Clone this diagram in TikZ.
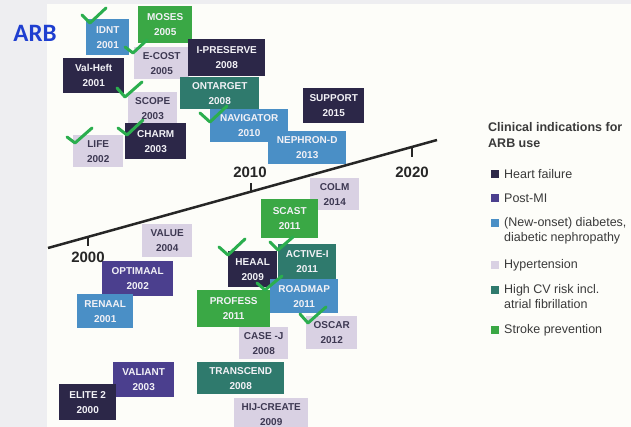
\documentclass[tikz,border=0pt]{standalone}
\usepackage{fontspec}
\setmainfont{Liberation Sans}
\newfontfamily\arbfont{Carlito}
\definecolor{hf}{HTML}{2C2748}
\definecolor{pmi}{HTML}{4B3F8E}
\definecolor{dia}{HTML}{4A8FC6}
\definecolor{hyp}{HTML}{D9D1E3}
\definecolor{cv}{HTML}{2F7A6D}
\definecolor{stroke}{HTML}{3AA845}
\definecolor{chk}{HTML}{2BAE4E}
\definecolor{bgout}{HTML}{EEEEF1}
\definecolor{panel}{HTML}{FDFDF9}
\definecolor{darktxt}{HTML}{3D3852}
\definecolor{lighttxt}{HTML}{F2F1F6}
\definecolor{axiscol}{HTML}{262626}
\definecolor{legtxt}{HTML}{3A3A3A}
\definecolor{arbblue}{HTML}{1F3FD0}
\tikzset{
  tbox/.style={draw=none, inner sep=0pt, anchor=north west, align=center,
    font=\fontsize{10}{15}\selectfont\bfseries},
  dk/.style={tbox, text=lighttxt},
  lt/.style={tbox, fill=hyp, text=darktxt},
  chkmark/.style={draw=chk, line width=3pt, line cap=round, line join=round},
  axisline/.style={draw=axiscol, line width=2.5pt},
  ticks/.style={draw=axiscol, line width=1.6pt},
  yearlab/.style={font=\fontsize{15}{15}\selectfont\bfseries, text=axiscol},
  lsq/.style={draw=none, minimum size=8pt, inner sep=0pt},
  ltext/.style={anchor=west, align=left, text=legtxt, inner sep=0pt,
    font=\fontsize{12.5}{15}\selectfont}
}
\begin{document}
\begin{tikzpicture}[x=1pt,y=-1pt]
\useasboundingbox (0,0) rectangle (631,427);
\fill[bgout] (0,0) rectangle (631,427);
\fill[panel] (47,4) rectangle (631,427);

\node[text=arbblue, font=\arbfont\fontsize{25}{25}\selectfont\bfseries] (arb) at (35,33) {ARB};

% upper boxes
\node[dk, fill=stroke, minimum width=54pt, minimum height=37pt] (moses) at (138,6) {MOSES\\2005};
\node[dk, fill=dia, minimum width=43pt, minimum height=36pt] (idnt) at (86,19) {IDNT\\2001};
\node[lt, minimum width=55pt, minimum height=32pt] (ecost) at (134,47) {E-COST\\2005};
\node[dk, fill=hf, minimum width=61pt, minimum height=35pt] (valheft) at (63,58) {Val-Heft\\2001};
\node[dk, fill=hf, minimum width=77pt, minimum height=37pt] (ipres) at (188,39) {I-PRESERVE\\2008};
\node[dk, fill=cv, minimum width=79pt, minimum height=32pt] (ontarget) at (180,77) {ONTARGET\\2008};
\node[lt, minimum width=49pt, minimum height=32pt] (scope) at (128,92) {SCOPE\\2003};
\node[dk, fill=hf, minimum width=61pt, minimum height=36pt] (charm) at (125,123) {CHARM\\2003};
\node[lt, minimum width=50pt, minimum height=32pt] (life) at (73,135) {LIFE\\2002};
\node[dk, fill=dia, minimum width=78pt, minimum height=33pt] (navigator) at (210,109) {NAVIGATOR\\2010};
\node[dk, fill=hf, minimum width=61pt, minimum height=35pt] (support) at (303,88) {SUPPORT\\2015};
\node[dk, fill=dia, minimum width=78pt, minimum height=33pt] (nephron) at (268,131) {NEPHRON-D\\2013};

% lower boxes
\node[lt, minimum width=50pt, minimum height=33pt] (value) at (142,224) {VALUE\\2004};
\node[dk, fill=pmi, minimum width=71pt, minimum height=35pt] (optimaal) at (102,261) {OPTIMAAL\\2002};
\node[dk, fill=dia, minimum width=56pt, minimum height=34pt] (renaal) at (77,294) {RENAAL\\2001};
\node[dk, fill=pmi, minimum width=61pt, minimum height=35pt] (valiant) at (113,362) {VALIANT\\2003};
\node[dk, fill=hf, minimum width=57pt, minimum height=36pt] (elite) at (59,384) {ELITE 2\\2000};
\node[lt, minimum width=49pt, minimum height=32pt] (colm) at (310,178) {COLM\\2014};
\node[dk, fill=stroke, minimum width=57pt, minimum height=39pt] (scast) at (261,199) {SCAST\\2011};
\node[dk, fill=hf, minimum width=49pt, minimum height=36pt] (heaal) at (228,251) {HEAAL\\2009};
\node[dk, fill=cv, minimum width=58pt, minimum height=35pt] (active) at (278,244) {ACTIVE-I\\2011};
\node[dk, fill=stroke, minimum width=73pt, minimum height=37pt] (profess) at (197,290) {PROFESS\\2011};
\node[dk, fill=dia, minimum width=68pt, minimum height=34pt] (roadmap) at (270,279) {ROADMAP\\2011};
\node[lt, minimum width=51pt, minimum height=33pt] (oscar) at (306,316) {OSCAR\\2012};
\node[lt, minimum width=49pt, minimum height=32pt] (casej) at (239,327) {CASE -J\\2008};
\node[dk, fill=cv, minimum width=87pt, minimum height=32pt] (transcend) at (197,362) {TRANSCEND\\2008};
\node[lt, minimum width=74pt, minimum height=33pt] (hij) at (234,398) {HIJ-CREATE\\2009};

% timeline
\coordinate (ax0) at (48,248);
\coordinate (ax1) at (437,140);
\draw[axisline] (ax0) -- (ax1);
\coordinate (t00) at (88,236.9);
\coordinate (t00e) at (88,246);
\coordinate (t10) at (251,191.6);
\coordinate (t10e) at (251,183);
\coordinate (t20) at (412,146.9);
\coordinate (t20e) at (412,157);
\draw[ticks] (t00) -- (t00e);
\draw[ticks] (t10) -- (t10e);
\draw[ticks] (t20) -- (t20e);
\node[yearlab] (y2000) at (88,257) {2000};
\node[yearlab] (y2010) at (250,172) {2010};
\node[yearlab] (y2020) at (412,172) {2020};

% check marks
\draw[chkmark] (82,15) -- (90,23) -- (106,8);
\draw[chkmark] (125,47) -- (133,53) -- (147,40);
\draw[chkmark] (117,88) -- (125,97) -- (142,82);
\draw[chkmark] (118,128) -- (127,135) -- (143,120);
\draw[chkmark] (67,137) -- (75,143) -- (92,128);
\draw[chkmark] (200,113) -- (210,122) -- (227,106);
\draw[chkmark] (219,247) -- (228,255) -- (245,239);
\draw[chkmark] (270,242) -- (278,250) -- (293,237);
\draw[chkmark] (257,283) -- (265,290) -- (282,276);
\draw[chkmark] (300,314) -- (308,323) -- (326,307);

% legend
\node[ltext, font=\fontsize{12.5}{16}\selectfont\bfseries] (ltitle) at (488,135) {Clinical indications for\\ARB use};
\node[lsq, fill=hf] (sq1) at (494.5,174) {};
\node[ltext] (lt1) at (504,174) {Heart failure};
\node[lsq, fill=pmi] (sq2) at (494.5,198) {};
\node[ltext] (lt2) at (504,198) {Post-MI};
\node[lsq, fill=dia] (sq3) at (494.5,223) {};
\node[ltext] (lt3) at (504,230.5) {(New-onset) diabetes,\\diabetic nephropathy};
\node[lsq, fill=hyp] (sq4) at (494.5,265) {};
\node[ltext] (lt4) at (504,265) {Hypertension};
\node[lsq, fill=cv] (sq5) at (494.5,290) {};
\node[ltext] (lt5) at (504,297) {High CV risk incl.\\atrial fibrillation};
\node[lsq, fill=stroke] (sq6) at (494.5,330) {};
\node[ltext] (lt6) at (504,330) {Stroke prevention};
\end{tikzpicture}
\end{document}
